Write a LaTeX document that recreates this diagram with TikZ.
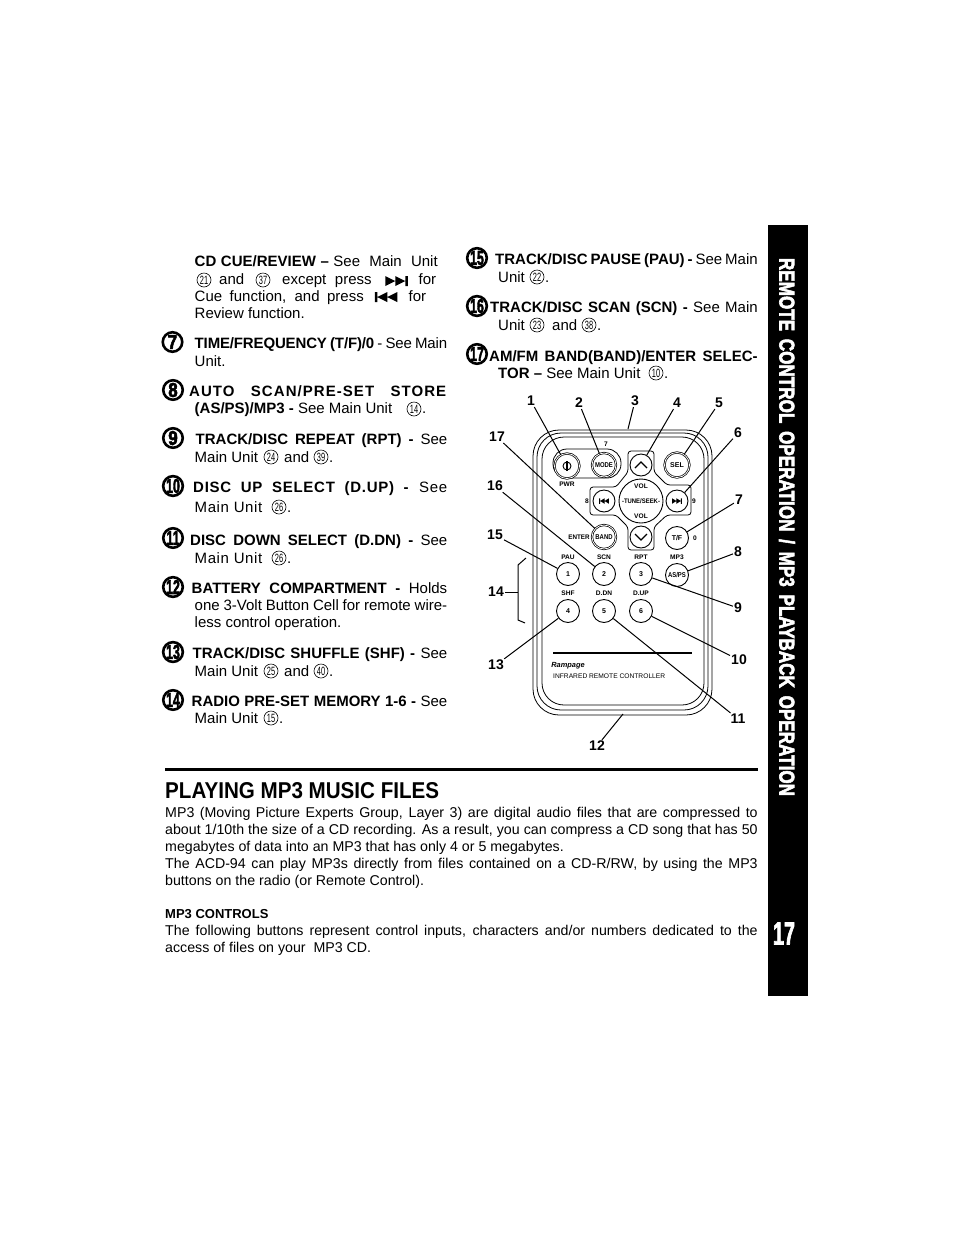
\documentclass[tikz,border=0pt]{standalone}
\usepackage{fontspec}
\setmainfont{Liberation Sans}
\newfontfamily\heavy[FakeBold=3]{Liberation Sans Bold}
\newcounter{tn}
\newcommand\cc[3]{\stepcounter{tn}\node[cnum] (q\arabic{tn}) at (#1,#2) {\scalebox{.62}[1]{#3}};}
\newcommand\jl[4]{\stepcounter{tn}\node[txt] (t\arabic{tn}) at (#1,#2) {\makebox[#3pt][s]{#4}};}
\newcommand\nl[3]{\stepcounter{tn}\node[txt] (t\arabic{tn}) at (#1,#2) {#3};}
\newcommand\pl[4]{\stepcounter{tn}\node[ptx] (t\arabic{tn}) at (#1,#2) {\makebox[#3pt][s]{#4}};}
\newcommand\pn[3]{\stepcounter{tn}\node[ptx] (t\arabic{tn}) at (#1,#2) {#3};}
\newcommand\ring[3]{\node[bignum] (#1) at (#2) {\scalebox{#3}[1]{#1}};}
\newcommand\gp{\hspace{.45em}}
\tikzset{
 txt/.style={anchor=base west,inner sep=0pt,font=\fontsize{15}{17}\selectfont},
 ptx/.style={anchor=base west,inner sep=0pt,font=\fontsize{14.2}{17}\selectfont},
 cnum/.style={circle,draw,line width=.6pt,inner sep=0pt,minimum size=14pt,font=\fontsize{12}{12}\selectfont},
 bignum/.style={circle,draw,line width=2.6pt,inner sep=0pt,minimum size=19.5pt,font=\heavy\fontsize{20}{20}\selectfont},
 callout/.style={inner sep=1pt,font=\bfseries\fontsize{14}{14}\selectfont},
 leader/.style={draw,line width=1pt},
 body/.style={draw,line width=.8pt},
 btn/.style={circle,draw,line width=.9pt,inner sep=0pt,font=\bfseries\fontsize{7}{7}\selectfont},
 dbtn/.style={btn,double,double distance=.8pt,line width=.7pt},
 tiny/.style={inner sep=0pt,font=\bfseries\fontsize{6.6}{7}\selectfont},
 fwdicon/.pic={\fill (-9,-5)--(-1,0)--(-9,5)--cycle (-1,-5)--(7,0)--(-1,5)--cycle (7,-5) rectangle (9,5);},
 revicon/.pic={\fill (9,-5)--(1,0)--(9,5)--cycle (1,-5)--(-7,0)--(1,5)--cycle (-7,-5) rectangle (-9,5);},
}
\begin{document}
\begin{tikzpicture}[x=1pt,y=-1pt]
\path[fill=white,use as bounding box] (0,0) rectangle (954,1235);
% sidebar
\fill (768,225) rectangle (808,996);
\node[text=white,inner sep=0pt,rotate=-90] (sidetitle) at (787,527) {\resizebox{538pt}{15.5pt}{\heavy REMOTE\gp CONTROL\gp OPERATION\gp/\gp MP3\gp PLAYBACK\gp OPERATION}};
\node[text=white,inner sep=0pt] (pagenum) at (784,933.5) {\resizebox{22pt}{22pt}{\heavy 17}};
% left column
\jl{194.5}{266}{243}{\textbf{CD CUE/REVIEW --} See \ Main \ Unit}
\cc{204}{280}{21}
\nl{219}{284}{and}
\cc{263}{280}{37}
\jl{282}{284}{154}{except press \hspace{30pt} for}
\jl{194.5}{301}{231.5}{Cue function, and press \hspace{30pt} for}
\nl{194.5}{318.5}{Review function.}
\pic[xscale=1.25,yscale=1] at (396.5,281) {fwdicon};
\pic[xscale=1.25,yscale=1] at (386,297) {revicon};
\ring{7}{172.5,342}{.85}
\jl{194.5}{348}{252.5}{\addfontfeature{LetterSpace=-1}\textbf{TIME/FREQUENCY (T/F)/0} - See Main}
\nl{194.5}{366.5}{Unit.}
\ring{8}{173,390}{.85}
\jl{189}{396}{258}{\addfontfeature{LetterSpace=7}\textbf{AUTO SCAN/PRE-SET STORE}}
\nl{194.5}{413.5}{\textbf{(AS/PS)/MP3 -} See Main Unit}
\cc{414}{409}{14}
\nl{422}{413.5}{.}
\ring{9}{173,438}{.85}
\jl{195.5}{444.5}{251.5}{\textbf{TRACK/DISC REPEAT (RPT) -} See}
\nl{194.5}{462}{Main Unit}
\cc{271}{457}{24}
\nl{284}{462}{and}
\cc{321}{457}{39}
\nl{329}{462}{.}
\ring{10}{173,486}{.62}
\jl{193}{492.5}{254}{\addfontfeature{LetterSpace=5}\textbf{DISC UP SELECT (D.UP) -} See}
\nl{194.5}{512}{\addfontfeature{LetterSpace=4}Main Unit}
\cc{279}{507}{26}
\nl{287}{512}{.}
\ring{11}{173,538}{.62}
\jl{190}{545.5}{257}{\textbf{DISC DOWN SELECT (D.DN) -} See}
\nl{194.5}{563}{\addfontfeature{LetterSpace=4}Main Unit}
\cc{279}{558}{26}
\nl{287}{563}{.}
\ring{12}{173,587}{.62}
\jl{191.5}{593}{255.5}{\textbf{BATTERY COMPARTMENT -} Holds}
\jl{194.5}{610}{252.5}{one 3-Volt Button Cell for remote wire-}
\nl{194.5}{627.5}{less control operation.}
\ring{13}{173,652}{.62}
\jl{192.5}{658}{254.5}{\textbf{TRACK/DISC SHUFFLE (SHF) -} See}
\nl{194.5}{676}{Main Unit}
\cc{271}{671}{25}
\nl{284}{676}{and}
\cc{321}{671}{40}
\nl{329}{676}{.}
\ring{14}{173,700}{.62}
\jl{191.5}{706}{255.5}{\textbf{RADIO PRE-SET MEMORY 1-6 -} See}
\nl{194.5}{723}{Main Unit}
\cc{271}{718}{15}
\nl{279}{723}{.}
% right column
\ring{15}{477,258}{.62}
\jl{495}{264.5}{262.5}{\textbf{TRACK/DISC PAUSE (PAU) -} See Main}
\nl{498}{282.5}{Unit}
\cc{537}{277}{22}
\nl{545}{282.5}{.}
\ring{16}{477,306}{.62}
\jl{490}{312.5}{267.5}{\textbf{TRACK/DISC SCAN (SCN) -} See Main}
\nl{498}{330.5}{Unit}
\cc{537}{325}{23}
\nl{552}{330.5}{and}
\cc{589}{325}{38}
\nl{597}{330.5}{.}
\ring{17}{477,354}{.62}
\jl{489}{361}{268.5}{\textbf{AM/FM BAND(BAND)/ENTER SELEC-}}
\nl{498}{378}{\textbf{TOR --} See Main Unit}
\cc{656}{373}{10}
\nl{664}{378}{.}
% remote body
\draw[body,rounded corners=26] (533,430) rectangle (712,715);
\draw[body,rounded corners=24] (537,433) rectangle (708,710);
\draw[body,rounded corners=22] (542,437) rectangle (704,705);
\draw[body,rounded corners=14] (553,449) rectangle (621,478);
\draw[body,fill=white,rounded corners=3] (628,451) -- (654,451) -- (654,472) -- (667,485) -- (691,485) -- (691,515) -- (667,515) -- (654,527) -- (654,550) -- (628,550) -- (628,527) -- (616,515) -- (590,515) -- (590,487) -- (616,487) -- (628,472) -- cycle;
% buttons
\node[dbtn,minimum size=25pt,fill=white] (pwr) at (567,466) {};
\draw[line width=.9pt] (567,466) circle[radius=4];
\draw[line width=1.1pt] (567,461) -- (567,471);
\node[dbtn,minimum size=24pt,fill=white] (mode) at (604,465) {\scalebox{.85}[1]{MODE}};
\node[btn,minimum size=22pt,fill=white] (up) at (641,465) {};
\draw[line width=1.2pt] (635,468) -- (641,462) -- (647,468);
\node[dbtn,minimum size=25pt,fill=white] (sel) at (677,465) {SEL};
\node[btn,minimum size=22pt,fill=white] (prev) at (604,501) {};
\node[btn,minimum size=22pt,fill=white] (next) at (677,501) {};
\pic[scale=.55] at (604,501) {revicon};
\pic[scale=.55] at (677,501) {fwdicon};
\node[btn,minimum size=44pt,fill=white] (tune) at (641,501) {};
\node[tiny] (vola) at (641,486) {VOL};
\node[tiny,fill=white] (tsk) at (641,501) {\scalebox{.9}[1]{-TUNE/SEEK-}};
\node[tiny] (volb) at (641,516) {VOL};
\node[btn,minimum size=22pt,fill=white] (down) at (641,537) {};
\draw[line width=1.2pt] (635,534) -- (641,540) -- (647,534);
\node[dbtn,minimum size=24pt,fill=white] (band) at (604,537) {\scalebox{.85}[1]{BAND}};
\node[btn,minimum size=23pt,fill=white] (tf) at (677,538) {T/F};
\node[btn,minimum size=23pt] (b1) at (568,574) {1};
\node[btn,minimum size=23pt] (b2) at (604,574) {2};
\node[btn,minimum size=23pt] (b3) at (641,574) {3};
\node[btn,minimum size=23pt] (asps) at (677,575) {\scalebox{.85}[1]{AS/PS}};
\node[btn,minimum size=23pt] (b4) at (568,611) {4};
\node[btn,minimum size=23pt] (b5) at (604,611) {5};
\node[btn,minimum size=23pt] (b6) at (641,611) {6};
% small remote labels
\node[tiny] (lpwr) at (567,484) {PWR};
\node[tiny] (l7) at (606,444) {7};
\node[tiny] (l8) at (587,501) {8};
\node[tiny] (l9) at (694,501) {9};
\node[tiny] (lenter) at (579,537) {\scalebox{.95}[1]{ENTER}};
\node[tiny] (l0) at (695,538) {0};
\node[tiny] (lpau) at (568,557.5) {PAU};
\node[tiny] (lscn) at (604,557.5) {SCN};
\node[tiny] (lrpt) at (641,557.5) {RPT};
\node[tiny] (lmp3) at (677,557.5) {MP3};
\node[tiny] (lshf) at (568,593) {SHF};
\node[tiny] (lddn) at (604,593) {D.DN};
\node[tiny] (ldup) at (641,593) {D.UP};
\draw[line width=1.4pt] (553,653) -- (692,653);
\node[inner sep=0pt] (brand) at (568,665.5) {\bfseries\itshape\fontsize{7.4}{8}\selectfont Rampage};
\node[inner sep=0pt,anchor=west] (irc) at (553,676) {\resizebox{112pt}{!}{\fontsize{8}{8}\selectfont INFRARED REMOTE CONTROLLER}};
% callouts
\node[callout] (c1) at (531,401) {1};
\node[callout] (c2) at (579,403) {2};
\node[callout] (c3) at (635,401) {3};
\node[callout] (c4) at (677,403) {4};
\node[callout] (c5) at (719,403) {5};
\node[callout] (c6) at (738,433) {6};
\node[callout] (c7) at (739,500) {7};
\node[callout] (c8) at (738,552) {8};
\node[callout] (c9) at (738,608) {9};
\node[callout] (c10) at (739,660) {10};
\node[callout] (c11) at (738,719) {11};
\node[callout] (c12) at (597,746) {12};
\node[callout] (c13) at (496,665) {13};
\node[callout] (c14) at (496,592) {14};
\node[callout] (c15) at (495,535) {15};
\node[callout] (c16) at (495,486) {16};
\node[callout] (c17) at (497,437) {17};
\coordinate (top3) at (628,429);
\coordinate (bot12) at (623,714);
\coordinate (br) at (518,592);
\draw[leader] (c1) -- (pwr);
\draw[leader] (c2) -- (mode);
\draw[leader] (c3) -- (top3);
\draw[leader] (c4) -- (up);
\draw[leader] (c5) -- (sel);
\draw[leader] (c6) -- (next);
\draw[leader] (c7) -- (tf);
\draw[leader] (c8) -- (asps);
\draw[leader] (c9) -- (b3);
\draw[leader] (c10) -- (b6);
\draw[leader] (c11) -- (b5);
\draw[leader] (c12) -- (bot12);
\draw[leader] (c13) -- (b4);
\draw[leader] (c14) -- (br);
\draw[leader] (c15) -- (b1);
\draw[leader] (c16) -- (b2);
\draw[leader] (c17) -- (band);
\draw[leader] (526,558) -- (518,565) -- (br) -- (518,620) -- (525,623);
% rule and heading
\draw[line width=2.6pt] (165,769.5) -- (758,769.5);
\node[inner sep=0pt,anchor=base west] (head) at (165,798) {\resizebox{274pt}{16pt}{\bfseries PLAYING MP3 MUSIC FILES}};
\pl{165}{817}{592.5}{MP3 (Moving Picture Experts Group, Layer 3) are digital audio files that are compressed to}
\pl{165}{834}{592.5}{about 1/10th the size of a CD recording. As a result, you can compress a CD song that has 50}
\pn{165}{851}{megabytes of data into an MP3 that has only 4 or 5 megabytes.}
\pl{165}{868}{592.5}{The ACD-94 can play MP3s directly from files contained on a CD-R/RW, by using the MP3}
\pn{165}{885}{buttons on the radio (or Remote Control).}
\pn{165}{918}{\fontsize{13}{13}\selectfont\textbf{MP3 CONTROLS}}
\pl{165}{935}{592.5}{The following buttons represent control inputs, characters and/or numbers dedicated to the}
\pn{165}{952}{access of files on your \ MP3 CD.}
\end{tikzpicture}
\end{document}
